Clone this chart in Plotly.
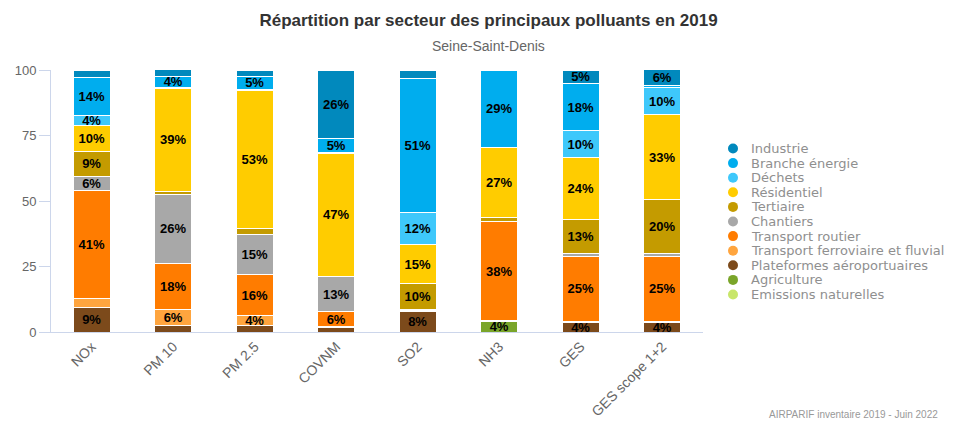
import plotly.graph_objects as go

# Polluants (x axis)
categories = ["NOx", "PM 10", "PM 2.5", "COVNM", "SO2", "NH3", "GES", "GES scope 1+2"]

# Share of each sector, in %
industrie = [3.0, 2.5, 2.1, 26.1, 3.2, 0.0, 5.1, 5.9]
branche_energie = [14.3, 4.3, 5.1, 5.4, 51.3, 29.4, 18.0, 1.0]
dechets = [3.9, 0.3, 0.4, 0.2, 12.1, 0.0, 10.2, 10.2]
residentiel = [10.0, 39.2, 52.6, 47.0, 15.0, 27.0, 23.6, 32.6]
tertiaire = [9.3, 1.3, 2.3, 0.3, 9.8, 1.5, 12.9, 20.3]
chantiers = [5.6, 26.2, 15.4, 13.2, 0.0, 0.0, 1.2, 1.2]
transport_routier = [41.2, 17.6, 15.6, 5.7, 0.4, 37.7, 24.7, 24.7]
transport_ferroviaire = [3.4, 6.2, 3.8, 0.2, 0.5, 0.2, 0.6, 0.6]
plateformes = [9.3, 2.5, 2.5, 1.9, 7.7, 0.0, 3.6, 3.6]
agriculture = [0.0, 0.0, 0.0, 0.0, 0.0, 4.2, 0.0, 0.0]
emissions_naturelles = [0.0, 0.0, 0.0, 0.0, 0.0, 0.0, 0.0, 0.0]

y_ticks = [0, 25, 50, 75, 100]

# Legend order (top of stack first)
sectors = [
    ("Industrie", industrie, "#0189bd"),
    ("Branche énergie", branche_energie, "#00adee"),
    ("Déchets", dechets, "#3ec8fb"),
    ("Résidentiel", residentiel, "#ffcc00"),
    ("Tertiaire", tertiaire, "#c49b00"),
    ("Chantiers", chantiers, "#a8a8a8"),
    ("Transport routier", transport_routier, "#ff7c00"),
    ("Transport ferroviaire et fluvial", transport_ferroviaire, "#ffa53e"),
    ("Plateformes aéroportuaires", plateformes, "#7c4a1b"),
    ("Agriculture", agriculture, "#7aa52a"),
    ("Emissions naturelles", emissions_naturelles, "#c8e66a"),
]

# The page body adds an 8px margin, so the figure is made smaller and
# everything is placed 8px up/left of where it sits in the window.
OFFSET = 8
W, H = 963 - OFFSET, 421 - OFFSET
# Plot area in window pixels
PLOT_L, PLOT_R, PLOT_T, PLOT_B = 51, 703, 70, 332


def paper_x(px):
    return (px - PLOT_L) / (PLOT_R - PLOT_L)


def paper_y(py):
    return (PLOT_B - py) / (PLOT_B - PLOT_T)


fig = go.Figure()

# Stack from the bottom up, so add in reverse legend order.
for name, values, color in reversed(sectors):
    labels = [f"<b>{round(v)}%</b>" if v >= 3.5 else "" for v in values]
    fig.add_trace(
        go.Bar(
            x=categories,
            y=values,
            name=name,
            text=labels,
            textposition="inside",
            insidetextanchor="middle",
            textangle=0,
            constraintext="none",
            textfont=dict(family="Liberation Sans, Arial", size=13, color="#000000"),
            marker=dict(color=color, line=dict(color="white", width=1)),
            hovertemplate=name + "<br>%{x}: %{y:.1f}%<extra></extra>",
            showlegend=False,
        )
    )

# Hand-made legend, tighter than Plotly's own.
for i, (name, values, color) in enumerate(sectors):
    cy = 148.5 + 14.6 * i
    fig.add_shape(
        type="circle",
        xref="paper",
        yref="paper",
        xsizemode="pixel",
        ysizemode="pixel",
        xanchor=paper_x(733),
        yanchor=paper_y(cy),
        x0=-5,
        x1=5,
        y0=-5,
        y1=5,
        fillcolor=color,
        line=dict(width=0),
    )
    fig.add_annotation(
        x=paper_x(749),
        y=paper_y(cy),
        xref="paper",
        yref="paper",
        text=name,
        showarrow=False,
        xanchor="left",
        yanchor="middle",
        font=dict(family="DejaVu Sans", size=13, color="#8f8f8f"),
    )

# Subtitle and credits
fig.add_annotation(
    x=paper_x(488),
    y=paper_y(46.5),
    xref="paper",
    yref="paper",
    text="Seine-Saint-Denis",
    showarrow=False,
    xanchor="center",
    yanchor="middle",
    font=dict(family="Liberation Sans, Arial", size=14, color="#666666"),
)
fig.add_annotation(
    x=paper_x(940),
    y=paper_y(414),
    xref="paper",
    yref="paper",
    text="AIRPARIF inventaire 2019 - Juin 2022",
    showarrow=False,
    xanchor="right",
    yanchor="middle",
    font=dict(family="Liberation Sans, Arial", size=10, color="#999999"),
)

fig.update_layout(
    width=W,
    height=H,
    autosize=False,
    barmode="stack",
    bargap=0.545,
    paper_bgcolor="white",
    plot_bgcolor="white",
    font=dict(family="Liberation Sans, Arial", color="#666666"),
    margin=dict(
        l=PLOT_L - OFFSET,
        r=W - (PLOT_R - OFFSET),
        t=PLOT_T - OFFSET,
        b=H - (PLOT_B - OFFSET),
        pad=0,
    ),
    title=dict(
        text="<b>Répartition par secteur des principaux polluants en 2019</b>",
        xref="container",
        x=(488.5 - OFFSET) / W,
        xanchor="center",
        yref="container",
        y=1 - (20 - OFFSET) / H,
        yanchor="middle",
        font=dict(family="Liberation Sans, Arial", size=17, color="#333333"),
    ),
    xaxis=dict(
        type="category",
        showline=True,
        linecolor="#ccd6eb",
        linewidth=1,
        ticks="",
        tickangle=-45,
        tickfont=dict(size=14, color="#666666"),
        showgrid=False,
        automargin=False,
    ),
    yaxis=dict(
        range=[0, 100],
        tickvals=y_ticks,
        showline=True,
        linecolor="#ccd6eb",
        linewidth=1,
        ticks="outside",
        ticklen=11,
        tickcolor="#ccd6eb",
        tickfont=dict(size=13, color="#666666"),
        showgrid=False,
        zeroline=False,
        automargin=False,
    ),
    hovermode="closest",
)

fig.write_html("out.html", config={"displayModeBar": False})
